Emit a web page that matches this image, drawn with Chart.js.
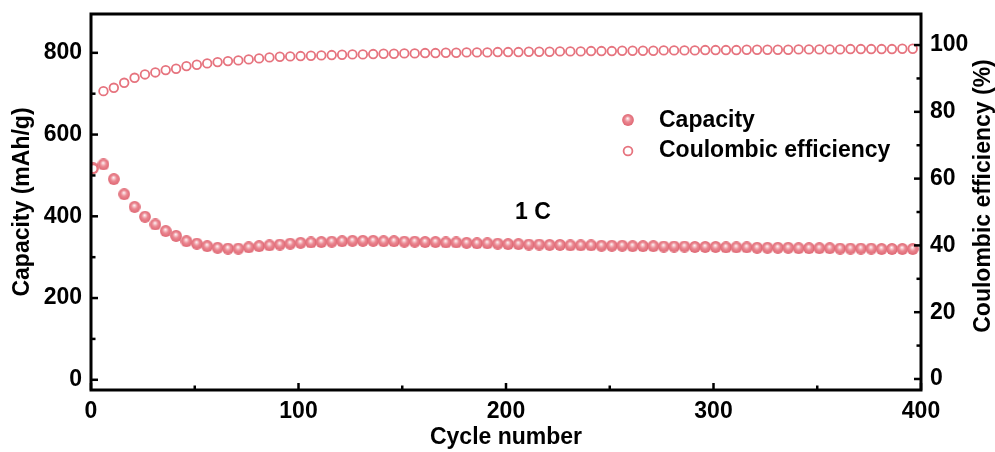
<!DOCTYPE html>
<html>
<head>
<meta charset="utf-8">
<script src="https://cdn.jsdelivr.net/npm/chart.js@4.4.1/dist/chart.umd.min.js"></script>
<style>
  html, body { margin: 0; padding: 0; background: #fff; }
  #wrap { width: 995px; height: 452px; }
</style>
</head>
<body>
<div id="wrap"><canvas id="myChart"></canvas></div>
<script>
/* globals Chart:false */

// cycle number of every plotted point
const cycles = [
  1, 6, 11, 16, 21, 26, 31, 36, 41, 46, 51, 56, 61, 66, 71, 76, 81, 86, 91, 96,
  101, 106, 111, 116, 121, 126, 131, 136, 141, 146, 151, 156, 161, 166, 171, 176, 181, 186, 191, 196,
  201, 206, 211, 216, 221, 226, 231, 236, 241, 246, 251, 256, 261, 266, 271, 276, 281, 286, 291, 296,
  301, 306, 311, 316, 321, 326, 331, 336, 341, 346, 351, 356, 361, 366, 371, 376, 381, 386, 391, 396
]

// discharge capacity, mAh/g
const capacity = [
  518, 527, 491, 454, 423, 399, 380, 364, 352, 339, 333, 327, 323, 321, 321, 324, 327, 329, 331, 333,
  335, 336, 337, 338, 339, 340, 340, 340, 339, 339, 338, 338, 337, 337, 336, 336, 335, 334, 334, 333,
  332, 332, 331, 331, 330, 330, 329, 329, 329, 328, 328, 328, 327, 327, 327, 326, 326, 326, 325, 325,
  325, 324, 324, 324, 323, 323, 323, 323, 322, 322, 322, 322, 321, 321, 321, 321, 320, 320, 320, 320
]

// coulombic efficiency, %
const efficiency = [
  63.0, 86.2, 87.2, 88.7, 90.2, 91.2, 91.8, 92.5, 92.9, 93.7, 94.1, 94.5, 94.9, 95.2, 95.4, 95.7, 96.0, 96.3, 96.5, 96.6,
  96.7, 96.8, 96.9, 97.0, 97.1, 97.2, 97.2, 97.3, 97.4, 97.4, 97.5, 97.5, 97.6, 97.6, 97.7, 97.7, 97.8, 97.8, 97.8, 97.9,
  97.9, 97.9, 98.0, 98.0, 98.0, 98.1, 98.1, 98.1, 98.2, 98.2, 98.2, 98.3, 98.3, 98.3, 98.3, 98.4, 98.4, 98.4, 98.4, 98.5,
  98.5, 98.5, 98.5, 98.6, 98.6, 98.6, 98.6, 98.6, 98.7, 98.7, 98.7, 98.7, 98.7, 98.8, 98.8, 98.8, 98.8, 98.8, 98.9, 98.9
]

// axis ticks
const cycleTicks = [0, 100, 200, 300, 400]
const cycleMinor = [50, 150, 250, 350]
const capTicks = [0, 200, 400, 600, 800]
const capMinor = [100, 300, 500, 700]
const ceTicks = [0, 20, 40, 60, 80, 100]
const ceMinor = [10, 30, 50, 70, 90]

const seriesNames = ['Capacity', 'Coulombic efficiency']
const rateLabel = '1 C'

;(() => {
  'use strict'

  const pink = '#e6737e'
  const font = '"Liberation Sans", Arial, Helvetica, sans-serif'

  Chart.defaults.font.family = font
  Chart.defaults.font.size = 23
  Chart.defaults.font.weight = 'bold'
  Chart.defaults.color = '#000'

  // shaded ball marker for the capacity points
  const ball = document.createElement('canvas')
  ball.width = 12
  ball.height = 12
  const bctx = ball.getContext('2d')
  const g = bctx.createRadialGradient(5.6, 4.3, 0, 6, 6, 5.9)
  g.addColorStop(0, '#ffffff')
  g.addColorStop(0.2, '#f8cdd1')
  g.addColorStop(0.5, '#eb8892')
  g.addColorStop(1, '#df6773')
  bctx.fillStyle = g
  bctx.beginPath()
  bctx.arc(6, 6, 5.9, 0, Math.PI * 2)
  bctx.fill()

  const capPoints = cycles.map((c, i) => ({ x: c, y: capacity[i] }))
  const cePoints = cycles.map((c, i) => ({ x: c, y: efficiency[i] }))

  // keep the plot box where the reference has it
  const noPad = s => {
    s.paddingTop = 0
    s.paddingBottom = 0
    s.paddingLeft = 0
    s.paddingRight = 0
  }

  // frame, inward ticks, right title, legend and the rate note
  const decor = {
    id: 'decor',
    afterDraw (chart) {
      const { ctx, chartArea: a, scales } = chart
      ctx.save()
      ctx.strokeStyle = '#000'
      ctx.lineCap = 'butt'

      const line = (x1, y1, x2, y2, w) => {
        ctx.lineWidth = w
        ctx.beginPath()
        ctx.moveTo(x1, y1)
        ctx.lineTo(x2, y2)
        ctx.stroke()
      }

      cycleTicks.forEach(v => {
        const px = scales.x.getPixelForValue(v)
        line(px, a.bottom, px, a.bottom - 7, 2.5)
      })
      cycleMinor.forEach(v => {
        const px = scales.x.getPixelForValue(v)
        line(px, a.bottom, px, a.bottom - 4.5, 2.5)
      })
      capTicks.forEach(v => {
        const py = scales.y.getPixelForValue(v)
        line(a.left, py, a.left + 7, py, 2.5)
      })
      capMinor.forEach(v => {
        const py = scales.y.getPixelForValue(v)
        line(a.left, py, a.left + 4.5, py, 2.5)
      })
      ceTicks.forEach(v => {
        const py = scales.y1.getPixelForValue(v)
        line(a.right, py, a.right - 7, py, 2.5)
      })
      ceMinor.forEach(v => {
        const py = scales.y1.getPixelForValue(v)
        line(a.right, py, a.right - 4.5, py, 2.5)
      })

      ctx.lineWidth = 3
      ctx.strokeRect(a.left, a.top, a.right - a.left, a.bottom - a.top)

      // right axis title, reading bottom to top like the left one
      ctx.fillStyle = '#000'
      ctx.font = 'bold 23px ' + font
      ctx.textAlign = 'center'
      ctx.textBaseline = 'middle'
      ctx.save()
      ctx.translate(984, (a.top + a.bottom) / 2 - 6)
      ctx.rotate(-Math.PI / 2)
      ctx.fillText('Coulombic efficiency (%)', 0, 0)
      ctx.restore()

      // rate note
      ctx.fillText(rateLabel, scales.x.getPixelForValue(213), scales.y.getPixelForValue(410))

      // legend
      ctx.textAlign = 'left'
      ctx.drawImage(ball, 628 - 6, 120 - 6)
      ctx.fillText(seriesNames[0], 659, 121)
      ctx.lineWidth = 1.8
      ctx.strokeStyle = pink
      ctx.fillStyle = '#fff'
      ctx.beginPath()
      ctx.arc(628, 151, 4.4, 0, Math.PI * 2)
      ctx.fill()
      ctx.stroke()
      ctx.fillStyle = '#000'
      ctx.fillText(seriesNames[1], 659, 151)
      ctx.restore()
    }
  }

  const ctx = document.getElementById('myChart')

  // eslint-disable-next-line no-unused-vars
  const myChart = new Chart(ctx, {
    type: 'scatter',
    data: {
      datasets: [{
        label: seriesNames[1],
        data: cePoints,
        yAxisID: 'y1',
        pointStyle: 'circle',
        pointRadius: 4.3,
        borderWidth: 1.8,
        borderColor: pink,
        backgroundColor: '#fff'
      }, {
        label: seriesNames[0],
        data: capPoints,
        yAxisID: 'y',
        pointStyle: ball,
        pointRadius: 6
      }]
    },
    plugins: [decor],
    options: {
      responsive: true,
      maintainAspectRatio: false,
      animation: false,
      events: [],
      layout: { padding: { top: 14, left: 0, right: 0, bottom: 0 } },
      plugins: {
        legend: { display: false },
        tooltip: { enabled: false }
      },
      scales: {
        x: {
          type: 'linear',
          min: 0,
          max: 400,
          ticks: { stepSize: 100, padding: 8, maxRotation: 0 },
          grid: { display: false, drawTicks: false },
          border: { display: false },
          title: { display: true, text: 'Cycle number', padding: { top: 0, bottom: 1 } },
          afterFit (s) { s.height = 62; noPad(s) }
        },
        y: {
          position: 'left',
          min: -25,
          max: 895,
          ticks: { stepSize: 200, includeBounds: false, padding: 9 },
          grid: { display: false, drawTicks: false },
          border: { display: false },
          title: { display: true, text: 'Capacity (mAh/g)', padding: { top: 9, bottom: 0 } },
          afterFit (s) { s.width = 91; noPad(s) }
        },
        y1: {
          position: 'right',
          min: -3.3,
          max: 109.3,
          ticks: { stepSize: 20, includeBounds: false, padding: 9 },
          grid: { display: false, drawTicks: false },
          border: { display: false },
          afterFit (s) { s.width = 74; noPad(s) }
        }
      }
    }
  })
})()
</script>
</body>
</html>
